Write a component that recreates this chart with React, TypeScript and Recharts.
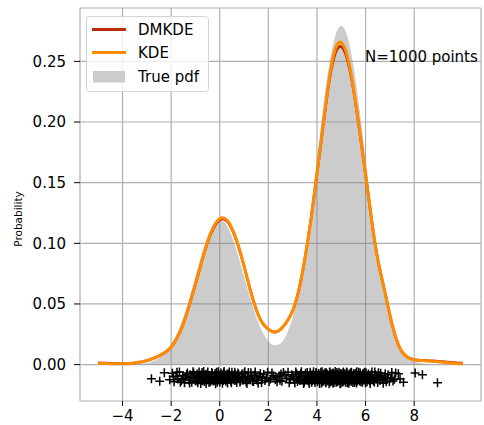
import React from 'react';
import { ComposedChart, XAxis, YAxis, CartesianGrid, Area, Line, Scatter } from 'recharts';

// grid of evaluation points
const xGrid = [
  -5, -4.75, -4.5, -4.25, -4, -3.75, -3.5, -3.25, -3, -2.75, -2.5, -2.25, -2, -1.75, -1.5, -1.25,
  -1, -0.75, -0.5, -0.25, 0, 0.25, 0.5, 0.75, 1, 1.25, 1.5, 1.75, 2, 2.25, 2.5, 2.75,
  3, 3.25, 3.5, 3.75, 4, 4.25, 4.5, 4.75, 5, 5.25, 5.5, 5.75, 6, 6.25, 6.5, 6.75,
  7, 7.25, 7.5, 7.75, 8, 8.25, 8.5, 8.75, 9, 9.25, 9.5, 9.75, 10,
];

const truePdf = [
  0, 0, 0, 0, 0.00004, 0.0001, 0.00026, 0.00061, 0.00133, 0.00273, 0.00525, 0.00953, 0.0162, 0.0259, 0.0389, 0.0548,
  0.0726, 0.0903, 0.1056, 0.116, 0.1197, 0.116, 0.1056, 0.0903, 0.0727, 0.0551, 0.0395, 0.0273, 0.0193, 0.0159, 0.0175, 0.025,
  0.0391, 0.061, 0.091, 0.128, 0.1694, 0.2108, 0.2465, 0.2707, 0.2793, 0.2707, 0.2465, 0.2108, 0.1694, 0.1279, 0.0907, 0.0604,
  0.0378, 0.0222, 0.0123, 0.0064, 0.0031, 0.0014, 0.0006, 0.0002, 0.0001, 0, 0, 0, 0,
];

const kde = [
  0.001, 0.0009, 0.0008, 0.0007, 0.0007, 0.0009, 0.0013, 0.0021, 0.0033, 0.005, 0.0072, 0.0101,
  0.0145, 0.0225, 0.0335, 0.049, 0.0665, 0.0845, 0.1015, 0.1138,
  0.1203, 0.1199, 0.1125, 0.099, 0.0815, 0.062, 0.0455, 0.0345,
  0.0292, 0.0268, 0.029, 0.035,
  0.0445, 0.061, 0.087, 0.119, 0.157, 0.197, 0.235, 0.2598,
  0.2656, 0.2544, 0.2283, 0.194, 0.157, 0.119, 0.087, 0.064,
  0.041, 0.022, 0.0105, 0.0058, 0.004, 0.0034, 0.003, 0.0027,
  0.0023, 0.0018, 0.0013, 0.0009, 0.0006,
];

const dmkde = [
  0.0015, 0.0013, 0.0011, 0.0009, 0.0008, 0.0009, 0.0013, 0.0021, 0.0033, 0.005, 0.0072, 0.0101,
  0.0145, 0.0225, 0.0335, 0.049, 0.0662, 0.084, 0.1008, 0.1128,
  0.1193, 0.1191, 0.1118, 0.0985, 0.0812, 0.062, 0.0455, 0.0345,
  0.0292, 0.0268, 0.029, 0.035,
  0.0445, 0.061, 0.087, 0.119, 0.1565, 0.196, 0.233, 0.2563,
  0.2621, 0.2514, 0.2268, 0.193, 0.1565, 0.119, 0.087, 0.064,
  0.041, 0.022, 0.0106, 0.0059, 0.0042, 0.0036, 0.0033, 0.0031,
  0.0028, 0.0024, 0.0019, 0.0015, 0.0012,
];

// samples drawn below the axis as "+" markers (x, jittered y)
const samples: [number, number][] = [
  [-2.81, -0.0116], [-2.47, -0.0138], [-2.28, -0.0068], [-2.06, -0.0125], [-1.95, -0.0072], [-1.88, -0.0141], [-1.8, -0.0095], [-1.72, -0.0118],
  [-1.66, -0.0061], [-1.58, -0.0132], [-1.52, -0.0089], [-1.45, -0.015], [-1.4, -0.0103], [-1.33, -0.007], [-1.27, -0.0127], [-1.21, -0.0084],
  [-1.15, -0.0146], [-1.1, -0.0058], [-1.04, -0.0112], [-0.98, -0.0135], [-0.93, -0.0078], [-0.88, -0.0121], [-0.83, -0.0097], [-0.78, -0.0155],
  [-0.73, -0.0066], [-0.68, -0.0109], [-0.63, -0.0139], [-0.58, -0.0081], [-0.54, -0.0124], [-0.49, -0.006], [-0.44, -0.0148], [-0.4, -0.0093],
  [-0.35, -0.0116], [-0.31, -0.0074], [-0.26, -0.0136], [-0.22, -0.0101], [-0.17, -0.0157], [-0.13, -0.0064], [-0.08, -0.0119], [-0.04, -0.0087],
  [0.0, -0.0143], [0.05, -0.007], [0.09, -0.0108], [0.14, -0.0131], [0.18, -0.0056], [0.23, -0.0125], [0.27, -0.0092], [0.32, -0.0152],
  [0.36, -0.0079], [0.41, -0.0114], [0.46, -0.0138], [0.5, -0.0063], [0.55, -0.0099], [0.6, -0.0128], [0.65, -0.0083], [0.7, -0.0147],
  [0.75, -0.0069], [0.8, -0.0111], [0.86, -0.0134], [0.92, -0.0076], [0.97, -0.012], [1.03, -0.0059], [1.09, -0.0144], [1.15, -0.0096],
  [1.21, -0.0122], [1.28, -0.0067], [1.35, -0.0137], [1.42, -0.0088], [1.5, -0.0115], [1.58, -0.0153], [1.67, -0.0073], [1.76, -0.0106],
  [1.86, -0.013], [1.97, -0.0062], [2.09, -0.0118], [2.22, -0.0091], [2.36, -0.0142], [2.52, -0.0077],
  [2.31, -0.0105], [2.48, -0.0128], [2.62, -0.0066], [2.75, -0.0113], [2.86, -0.0149], [2.96, -0.0084], [3.05, -0.0121], [3.13, -0.006],
  [3.2, -0.0139], [3.27, -0.0098], [3.33, -0.0074], [3.39, -0.0126], [3.45, -0.0155], [3.5, -0.0089], [3.55, -0.0112], [3.6, -0.0065],
  [3.65, -0.0135], [3.7, -0.0102], [3.74, -0.0079], [3.78, -0.0146], [3.82, -0.0117], [3.86, -0.0058], [3.9, -0.0129], [3.94, -0.0094],
  [3.98, -0.0071], [4.02, -0.0141], [4.05, -0.0108], [4.09, -0.0085], [4.12, -0.0123], [4.16, -0.0062], [4.19, -0.0152], [4.22, -0.0099],
  [4.26, -0.0133], [4.29, -0.0076], [4.32, -0.0115], [4.35, -0.0144], [4.38, -0.0068], [4.41, -0.0106], [4.44, -0.0127], [4.47, -0.009],
  [4.5, -0.0157], [4.53, -0.0063], [4.56, -0.0119], [4.59, -0.0081], [4.61, -0.0137], [4.64, -0.0101], [4.67, -0.0072], [4.7, -0.0148],
  [4.72, -0.0112], [4.75, -0.0057], [4.78, -0.0125], [4.8, -0.0093], [4.83, -0.014], [4.86, -0.0078], [4.88, -0.0118], [4.91, -0.0064],
  [4.94, -0.0131], [4.96, -0.0097], [4.99, -0.0151], [5.02, -0.0083], [5.04, -0.011], [5.07, -0.0069], [5.1, -0.0136], [5.12, -0.0104],
  [5.15, -0.0075], [5.18, -0.0145], [5.2, -0.0121], [5.23, -0.0061], [5.26, -0.0129], [5.28, -0.0091], [5.31, -0.0154], [5.34, -0.008],
  [5.37, -0.0114], [5.4, -0.0066], [5.43, -0.0138], [5.46, -0.01], [5.49, -0.0124], [5.52, -0.0073], [5.55, -0.0147], [5.58, -0.0087],
  [5.61, -0.0116], [5.64, -0.0059], [5.67, -0.0133], [5.71, -0.0095], [5.74, -0.012], [5.78, -0.007], [5.81, -0.0142], [5.85, -0.0107],
  [5.88, -0.0082], [5.92, -0.0126], [5.96, -0.0063], [6.0, -0.015], [6.04, -0.0098], [6.08, -0.0117], [6.12, -0.0077], [6.17, -0.0134],
  [6.21, -0.0092], [6.26, -0.006], [6.31, -0.0122], [6.36, -0.0144], [6.41, -0.0086], [6.47, -0.0109], [6.53, -0.0068], [6.59, -0.013],
  [6.66, -0.0096], [6.73, -0.0153], [6.81, -0.0075], [6.89, -0.0113], [6.98, -0.0139], [7.08, -0.0065], [7.19, -0.012], [7.35, -0.0076],
  [7.56, -0.0146], [8.04, -0.0069], [8.34, -0.0083], [8.96, -0.015],
  // second batch
  [-1.91, -0.0098], [-1.76, -0.0063], [-1.62, -0.0145], [-1.49, -0.0117], [-1.36, -0.0082], [-1.24, -0.0152], [-1.18, -0.0105], [-1.07, -0.0071],
  [-1.01, -0.0129], [-0.95, -0.0094], [-0.9, -0.0149], [-0.85, -0.0061], [-0.8, -0.0113], [-0.76, -0.0086], [-0.71, -0.0133], [-0.66, -0.0057],
  [-0.61, -0.0102], [-0.56, -0.0156], [-0.51, -0.0077], [-0.47, -0.0123], [-0.42, -0.0091], [-0.38, -0.0141], [-0.33, -0.0065], [-0.28, -0.0108],
  [-0.24, -0.0129], [-0.19, -0.0073], [-0.15, -0.0115], [-0.1, -0.0146], [-0.06, -0.0059], [-0.02, -0.0101], [0.03, -0.0124], [0.07, -0.0085],
  [0.11, -0.0154], [0.16, -0.0068], [0.21, -0.0112], [0.25, -0.0138], [0.3, -0.0078], [0.34, -0.0121], [0.39, -0.0061], [0.43, -0.0095],
  [0.48, -0.0149], [0.53, -0.0088], [0.58, -0.0117], [0.62, -0.0064], [0.67, -0.0132], [0.73, -0.0104], [0.78, -0.0081], [0.83, -0.0143],
  [0.89, -0.0097], [0.95, -0.0126], [1.01, -0.0072], [1.06, -0.0109], [1.12, -0.0155], [1.18, -0.0066], [1.25, -0.0119], [1.32, -0.0093],
  [1.39, -0.014], [1.46, -0.0061], [1.54, -0.0128], [1.63, -0.0099], [1.72, -0.0148], [1.81, -0.0079], [1.92, -0.0111], [2.03, -0.0139],
  [2.15, -0.0069], [2.29, -0.0124], [2.44, -0.0094],
  [2.56, -0.0137], [2.69, -0.0085], [2.81, -0.0063], [2.91, -0.0122], [3.01, -0.0101], [3.09, -0.0151], [3.17, -0.0077], [3.24, -0.0114],
  [3.3, -0.0131], [3.36, -0.0058], [3.42, -0.0096], [3.48, -0.0143], [3.53, -0.0072], [3.58, -0.0124], [3.63, -0.0089], [3.68, -0.0156],
  [3.72, -0.0062], [3.76, -0.0109], [3.8, -0.0134], [3.84, -0.0081], [3.88, -0.0118], [3.92, -0.0147], [3.96, -0.0066], [4.0, -0.0103],
  [4.04, -0.0128], [4.07, -0.0074], [4.11, -0.0155], [4.14, -0.0092], [4.18, -0.0113], [4.21, -0.0059], [4.24, -0.0139], [4.28, -0.0087],
  [4.31, -0.0124], [4.34, -0.0067], [4.37, -0.0149], [4.4, -0.0097], [4.43, -0.0079], [4.46, -0.0135], [4.49, -0.011], [4.52, -0.0061],
  [4.55, -0.0143], [4.58, -0.0088], [4.6, -0.0121], [4.63, -0.0071], [4.66, -0.0153], [4.69, -0.0094], [4.71, -0.0128], [4.74, -0.0083],
  [4.77, -0.0107], [4.79, -0.0146], [4.82, -0.0065], [4.85, -0.0116], [4.87, -0.0138], [4.9, -0.0089], [4.93, -0.0102], [4.95, -0.0157],
  [4.98, -0.0073], [5.01, -0.0125], [5.03, -0.0095], [5.06, -0.0144], [5.09, -0.006], [5.11, -0.0119], [5.14, -0.0086], [5.17, -0.0132],
  [5.19, -0.0105], [5.22, -0.0068], [5.25, -0.015], [5.27, -0.0099], [5.3, -0.0122], [5.33, -0.0078], [5.36, -0.0137], [5.39, -0.0093],
  [5.42, -0.0062], [5.45, -0.0115], [5.48, -0.0148], [5.51, -0.0084], [5.54, -0.0109], [5.57, -0.0129], [5.6, -0.0071], [5.63, -0.0152],
  [5.66, -0.0097], [5.69, -0.0118], [5.72, -0.0064], [5.76, -0.0136], [5.79, -0.0088], [5.83, -0.0112], [5.87, -0.0145], [5.9, -0.0074],
  [5.94, -0.0103], [5.98, -0.0127], [6.02, -0.0067], [6.06, -0.0141], [6.1, -0.009], [6.15, -0.0116], [6.19, -0.0155], [6.24, -0.0081],
  [6.28, -0.0106], [6.33, -0.0133], [6.38, -0.0061], [6.44, -0.0119], [6.5, -0.0147], [6.56, -0.0092], [6.62, -0.0071], [6.69, -0.0125],
  [6.77, -0.0102], [6.85, -0.0142], [6.93, -0.0084], [7.03, -0.0111], [7.13, -0.0135], [7.24, -0.0069], [7.42, -0.0118],
];

const xTicks = [-4, -2, 0, 2, 4, 6, 8];
const yTicks = [0, 0.05, 0.1, 0.15, 0.2, 0.25];

const FONT = 'DejaVu Sans';
const ORANGE = '#ff8c00';
const DARKRED = '#bb2a0a';

const curveData = xGrid.map((x, i) => ({ x, pdf: truePdf[i], kde: kde[i], dmkde: dmkde[i] }));
const sampleData = samples.map(([x, y]) => ({ x, y }));

const PlusMark = (props: any) => {
  const { cx, cy } = props;
  if (cx == null || cy == null) return null;
  return <path d={`M${cx - 4.5},${cy}H${cx + 4.5}M${cx},${cy - 4.5}V${cy + 4.5}`} stroke="#000" strokeWidth={1.5} fill="none" />;
};

const fmtX = (v: number) => (v < 0 ? '\u2212' + Math.abs(v) : String(v));

export default function App() {
  return (
    <div style={{ position: 'absolute', left: 0, top: 0, width: 484, height: 425, background: '#fff' }}>
      <ComposedChart width={484} height={425} data={curveData} margin={{ top: 8, right: 3, bottom: 0, left: 0 }}>
        <CartesianGrid stroke="#b0b0b0" strokeWidth={1.2} />
        <XAxis
          dataKey="x"
          type="number"
          domain={[-5.75, 10.75]}
          ticks={xTicks}
          tickFormatter={fmtX}
          allowDataOverflow
          axisLine={false}
          stroke="#000"
          tickSize={5}
          tickMargin={4}
          height={24}
          tick={{ fill: '#000', fontSize: 15, fontFamily: FONT }}
        />
        <YAxis
          type="number"
          domain={[-0.03, 0.294]}
          ticks={yTicks}
          tickFormatter={(v: number) => v.toFixed(2)}
          allowDataOverflow
          axisLine={false}
          stroke="#000"
          tickSize={6}
          tickMargin={8}
          width={80}
          tick={{ fill: '#000', fontSize: 15, fontFamily: FONT }}
        />
        <Area
          type="monotone"
          dataKey="pdf"
          baseValue={0}
          stroke="none"
          fill="#808080"
          fillOpacity={0.4}
          isAnimationActive={false}
        />
        <Line type="natural" dataKey="dmkde" stroke={DARKRED} strokeWidth={2.6} dot={false} isAnimationActive={false} />
        <Line type="natural" dataKey="kde" stroke={ORANGE} strokeWidth={3} dot={false} isAnimationActive={false} />
        <Scatter data={sampleData} dataKey="y" shape={<PlusMark />} isAnimationActive={false} />
      </ComposedChart>

      <svg width={484} height={425} style={{ position: 'absolute', left: 0, top: 0, pointerEvents: 'none' }}>
        <text x={22} y={219} transform="rotate(-90 22 219)" textAnchor="middle" fontFamily={FONT} fontSize={10.5} fill="#000">
          Probability
        </text>
        <text x={365} y={62} fontFamily={FONT} fontSize={15} fill="#000">N=1000 points</text>
        <rect x={86.5} y={16.5} width={122} height={75} rx={3} fill="#fff" fillOpacity={0.8} stroke="#d4d4d4" />
        <line x1={92} x2={126} y1={29.5} y2={29.5} stroke={DARKRED} strokeWidth={3} />
        <text x={138} y={35} fontFamily={FONT} fontSize={15} fill="#000">DMKDE</text>
        <line x1={92} x2={126} y1={52.5} y2={52.5} stroke={ORANGE} strokeWidth={3} />
        <text x={138} y={58} fontFamily={FONT} fontSize={15} fill="#000">KDE</text>
        <rect x={93} y={71} width={32} height={11.5} fill="#cccccc" />
        <text x={138} y={82} fontFamily={FONT} fontSize={15} fill="#000">True pdf</text>
      </svg>
    </div>
  );
}
